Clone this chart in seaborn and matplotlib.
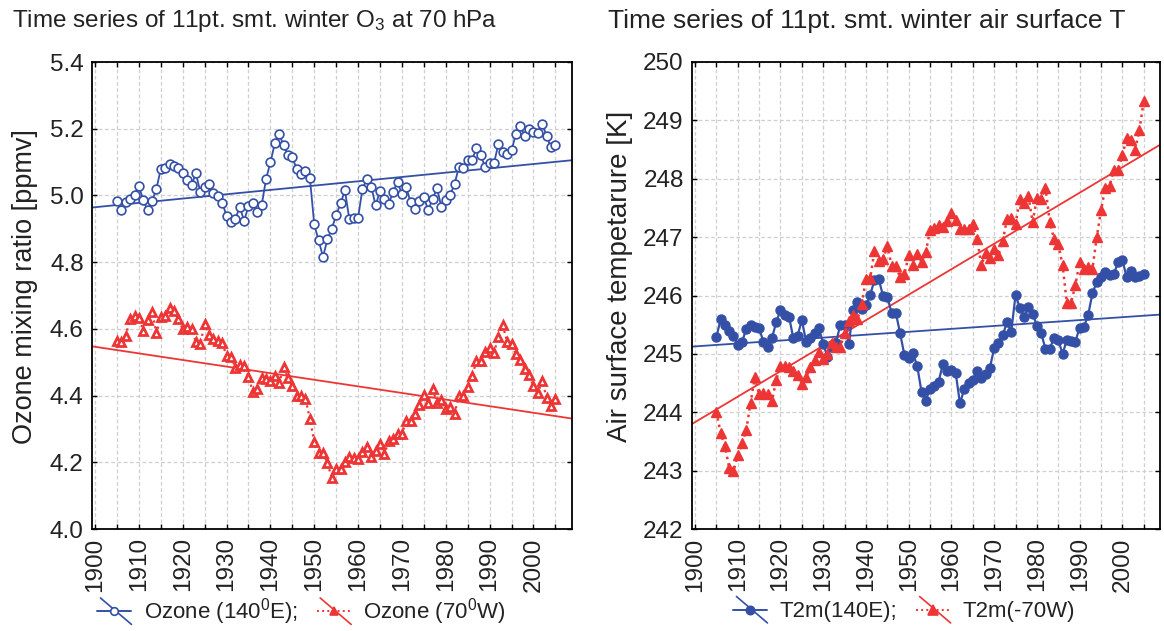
import numpy as np
import pandas as pd
import matplotlib
matplotlib.use("Agg")
import matplotlib.pyplot as plt
import seaborn as sns
from matplotlib.lines import Line2D
from matplotlib.legend_handler import HandlerBase

# ---------------- data ----------------
years = list(range(1905, 2006))

ozone_140E = [
    4.984, 4.956, 4.981, 4.988, 5.000, 5.028, 4.986, 4.955, 4.983, 5.020,
    5.080, 5.081, 5.093, 5.088, 5.081, 5.066, 5.046, 5.031, 5.066, 5.011,
    5.024, 5.033, 5.006, 4.999, 4.978, 4.939, 4.920, 4.929, 4.966, 4.924,
    4.968, 4.976, 4.951, 4.970, 5.049, 5.099, 5.156, 5.184, 5.150, 5.121,
    5.114, 5.079, 5.064, 5.073, 5.053, 4.913, 4.865, 4.816, 4.868, 4.900,
    4.941, 4.976, 5.015, 4.929, 4.933, 4.933, 5.020, 5.048, 5.026, 4.970,
    5.013, 4.988, 4.975, 5.011, 5.041, 5.003, 5.024, 4.979, 4.959, 4.983,
    4.994, 4.956, 4.989, 5.022, 4.965, 4.987, 5.001, 5.034, 5.085, 5.083,
    5.107, 5.107, 5.141, 5.120, 5.084, 5.098, 5.096, 5.154, 5.131, 5.124,
    5.136, 5.183, 5.207, 5.179, 5.199, 5.189, 5.188, 5.215, 5.178, 5.144,
    5.151]

ozone_70W = [
    4.563, 4.560, 4.580, 4.629, 4.638, 4.634, 4.595, 4.626, 4.651, 4.587,
    4.635, 4.640, 4.663, 4.654, 4.630, 4.599, 4.606, 4.601, 4.561, 4.554,
    4.616, 4.581, 4.569, 4.563, 4.559, 4.519, 4.516, 4.484, 4.491, 4.490,
    4.456, 4.411, 4.421, 4.452, 4.450, 4.444, 4.458, 4.438, 4.485, 4.452,
    4.428, 4.400, 4.399, 4.390, 4.331, 4.261, 4.228, 4.227, 4.198, 4.153,
    4.180, 4.179, 4.201, 4.216, 4.214, 4.209, 4.230, 4.245, 4.216, 4.233,
    4.256, 4.224, 4.264, 4.269, 4.286, 4.286, 4.323, 4.324, 4.346, 4.371,
    4.401, 4.379, 4.419, 4.379, 4.386, 4.361, 4.366, 4.345, 4.400, 4.398,
    4.425, 4.459, 4.503, 4.503, 4.531, 4.544, 4.528, 4.576, 4.611, 4.561,
    4.554, 4.524, 4.506, 4.481, 4.463, 4.428, 4.408, 4.444, 4.394, 4.369,
    4.391]

t2m_140E = [
    245.29, 245.59, 245.49, 245.40, 245.31, 245.16, 245.20, 245.43, 245.49, 245.46,
    245.44, 245.21, 245.12, 245.27, 245.54, 245.75, 245.67, 245.64, 245.27, 245.31,
    245.58, 245.21, 245.28, 245.35, 245.44, 245.17, 244.95, 245.12, 245.19, 245.50,
    245.50, 245.17, 245.75, 245.89, 245.77, 245.84, 246.01, 246.27, 246.28, 245.99,
    245.98, 245.70, 245.70, 245.35, 244.98, 244.93, 245.01, 244.79, 244.35, 244.20,
    244.40, 244.45, 244.52, 244.83, 244.70, 244.72, 244.67, 244.15, 244.40, 244.50,
    244.55, 244.70, 244.59, 244.65, 244.76, 245.10, 245.19, 245.32, 245.54, 245.38,
    246.01, 245.79, 245.63, 245.80, 245.69, 245.48, 245.36, 245.08, 245.08, 245.28,
    245.24, 245.00, 245.24, 245.22, 245.21, 245.45, 245.46, 245.67, 246.04, 246.23,
    246.32, 246.40, 246.35, 246.36, 246.58, 246.61, 246.31, 246.42, 246.31, 246.34,
    246.37]

t2m_70W = [
    244.01, 243.64, 243.42, 243.05, 242.99, 243.26, 243.47, 243.70, 244.16, 244.60,
    244.31, 244.33, 244.32, 244.19, 244.55, 244.80, 244.79, 244.77, 244.70, 244.64,
    244.49, 244.60, 244.77, 244.90, 245.04, 244.92, 245.00, 245.18, 245.11, 245.12,
    245.35, 245.56, 245.67, 245.59, 245.85, 246.28, 246.30, 246.77, 246.59, 246.62,
    246.85, 246.51, 246.51, 246.31, 246.36, 246.69, 246.52, 246.71, 246.57, 246.74,
    247.12, 247.15, 247.21, 247.18, 247.28, 247.42, 247.29, 247.14, 247.14, 247.14,
    247.22, 246.97, 246.52, 246.72, 246.65, 246.79, 246.69, 246.93, 247.31, 247.32,
    247.22, 247.66, 247.59, 247.70, 247.26, 247.67, 247.66, 247.85, 247.26, 246.97,
    246.88, 246.52, 245.87, 245.88, 246.18, 246.57, 246.45, 246.48, 246.46, 247.00,
    247.46, 247.85, 247.88, 248.15, 248.15, 248.40, 248.70, 248.66, 248.50, 248.84,
    249.34]

x_ticks = [1900, 1905, 1910, 1915, 1920, 1925, 1930, 1935, 1940, 1945, 1950,
           1955, 1960, 1965, 1970, 1975, 1980, 1985, 1990, 1995, 2000, 2005]
x_tick_labels = ["1900", "", "1910", "", "1920", "", "1930", "", "1940", "",
                 "1950", "", "1960", "", "1970", "", "1980", "", "1990", "",
                 "2000", ""]
ozone_ticks = [4.0, 4.2, 4.4, 4.6, 4.8, 5.0, 5.2, 5.4]
ozone_tick_labels = ["4.0", "4.2", "4.4", "4.6", "4.8", "5.0", "5.2", "5.4"]
temp_ticks = [242, 243, 244, 245, 246, 247, 248, 249, 250]
temp_tick_labels = ["242", "243", "244", "245", "246", "247", "248", "249", "250"]

left_title = "Time series of 11pt. smt. winter O$_3$ at 70 hPa"
right_title = "Time series of 11pt. smt. winter air surface T"
left_ylabel = "Ozone mixing ratio [ppmv]"
right_ylabel = "Air surface tempetarure [K]"
left_legend = ["Ozone (140$^{\\mathrm{0}}$E);", "Ozone (70$^{\\mathrm{0}}$W)"]
right_legend = ["T2m(140E);", "T2m(-70W)"]

# ---------------- style ----------------
sns.set_theme(style="white")
plt.rcParams["font.family"] = ["Liberation Sans", "DejaVu Sans"]
plt.rcParams["mathtext.fontset"] = "custom"
plt.rcParams["mathtext.rm"] = "Liberation Sans"
plt.rcParams["mathtext.it"] = "Liberation Sans:italic"
plt.rcParams["mathtext.bf"] = "Liberation Sans:bold"

BLUE = "#3450A6"
RED = "#EE3535"
GRID = "#cfcfcf"
TXT = "#222222"
XLIM = (1899.3, 2008.8)

W, H = 1164, 631
fig = plt.figure(figsize=(W / 100, H / 100), dpi=100)
ax1 = fig.add_axes([92 / W, 1 - 529 / H, 480 / W, 467 / H])
ax2 = fig.add_axes([692 / W, 1 - 529 / H, 468 / W, 467 / H])

df_o = pd.DataFrame({"year": years, "o140": ozone_140E, "o70": ozone_70W})
df_t = pd.DataFrame({"year": years, "t140": t2m_140E, "t70": t2m_70W})


def style_axes(ax, yticks, ylabels, ylim):
    ax.set_xlim(*XLIM)
    ax.set_ylim(*ylim)
    ax.set_xticks(x_ticks)
    ax.set_xticklabels(x_tick_labels, rotation=90)
    ax.set_yticks(yticks)
    ax.set_yticklabels(ylabels)
    ax.grid(True, color=GRID, linestyle=(0, (3, 2)), linewidth=0.9)
    ax.set_axisbelow(True)
    for s in ax.spines.values():
        s.set_color("black")
        s.set_linewidth(1.3)
        s.set_visible(True)
    ax.tick_params(axis="both", which="major", direction="in", length=3.5,
                   width=1, color="black", top=True, right=True,
                   bottom=True, left=True, labelsize=17.5, pad=6,
                   labelcolor=TXT)
    ax.set_xlabel("")


# ---- left: ozone ----
ax1.set_xlim(*XLIM)
sns.regplot(data=df_o, x="year", y="o140", ax=ax1, scatter=False, ci=None,
            truncate=False, line_kws=dict(color=BLUE, lw=1.3))
sns.regplot(data=df_o, x="year", y="o70", ax=ax1, scatter=False, ci=None,
            truncate=False, line_kws=dict(color=RED, lw=1.3))
sns.lineplot(data=df_o, x="year", y="o140", ax=ax1, color=BLUE, lw=1.3,
             marker="o", markersize=6.3, markerfacecolor="white",
             markeredgecolor=BLUE, markeredgewidth=1.2)
sns.lineplot(data=df_o, x="year", y="o70", ax=ax1, color=RED, lw=1.6,
             linestyle=":", marker="^", markersize=6.3, markerfacecolor="white",
             markeredgecolor=RED, markeredgewidth=2.0)
style_axes(ax1, ozone_ticks, ozone_tick_labels, (4.0, 5.4))
ax1.set_ylabel(left_ylabel, fontsize=19.5, color=TXT)
ax1.yaxis.set_label_coords(-0.112, 0.52)

# ---- right: temperature ----
ax2.set_xlim(*XLIM)
sns.regplot(data=df_t, x="year", y="t140", ax=ax2, scatter=False, ci=None,
            truncate=False, line_kws=dict(color=BLUE, lw=1.3))
sns.regplot(data=df_t, x="year", y="t70", ax=ax2, scatter=False, ci=None,
            truncate=False, line_kws=dict(color=RED, lw=1.3))
sns.lineplot(data=df_t, x="year", y="t140", ax=ax2, color=BLUE, lw=1.6,
             marker="o", markersize=6.5, markerfacecolor=BLUE,
             markeredgecolor=BLUE, markeredgewidth=1)
sns.lineplot(data=df_t, x="year", y="t70", ax=ax2, color=RED, lw=1.8,
             linestyle=":", marker="^", markersize=7, markerfacecolor=RED,
             markeredgecolor=RED, markeredgewidth=1)
style_axes(ax2, temp_ticks, temp_tick_labels, (242, 250))
ax2.set_ylabel(right_ylabel, fontsize=20, color=TXT)
ax2.yaxis.set_label_coords(-0.127, 0.54)

# ---- titles ----
fig.text(12 / W, 1 - 21 / H, left_title, ha="left", va="center",
         fontsize=17.5, color=TXT)
fig.text(608 / W, 1 - 21 / H, right_title, ha="left", va="center",
         fontsize=19, color=TXT)


# ---- legends ----
class StatHandler(HandlerBase):
    def __init__(self, color, ls, marker, mfc, ms):
        super().__init__()
        self.color, self.ls, self.marker, self.mfc, self.ms = color, ls, marker, mfc, ms

    def create_artists(self, legend, orig_handle, xdescent, ydescent, width,
                       height, fontsize, trans):
        x0, x1 = -xdescent, width - xdescent
        yc = height / 2 - ydescent
        xc = (x0 + x1) / 2
        hline = Line2D([x0, x1], [yc, yc], color=self.color, ls=self.ls, lw=1.4)
        diag = Line2D([x0 + 0.1 * width, x1], [yc + 0.85 * height, yc - 0.85 * height],
                      color=self.color, lw=1.2)
        mk = Line2D([xc], [yc], marker=self.marker, markersize=self.ms,
                    markerfacecolor=self.mfc, markeredgecolor=self.color,
                    markeredgewidth=1.2, ls="none")
        for a in (hline, diag, mk):
            a.set_transform(trans)
        return [hline, diag, mk]


def add_legend(labels, handlers, x_px):
    hs = [Line2D([], []), Line2D([], [])]
    fig.legend(hs, labels, handler_map={hs[0]: handlers[0], hs[1]: handlers[1]},
               loc="center left", bbox_to_anchor=(x_px / W, 1 - 612 / H),
               ncol=2, frameon=False, fontsize=16, handlelength=1.55,
               handletextpad=0.55, columnspacing=0.85, borderpad=0,
               borderaxespad=0, labelcolor=TXT)


add_legend(left_legend,
           [StatHandler(BLUE, "-", "o", "white", 5.5),
            StatHandler(RED, ":", "^", RED, 6)], 97)
add_legend(right_legend,
           [StatHandler(BLUE, "-", "o", BLUE, 6),
            StatHandler(RED, ":", "^", RED, 6.5)], 733)

fig.savefig("out.png", dpi=100)
